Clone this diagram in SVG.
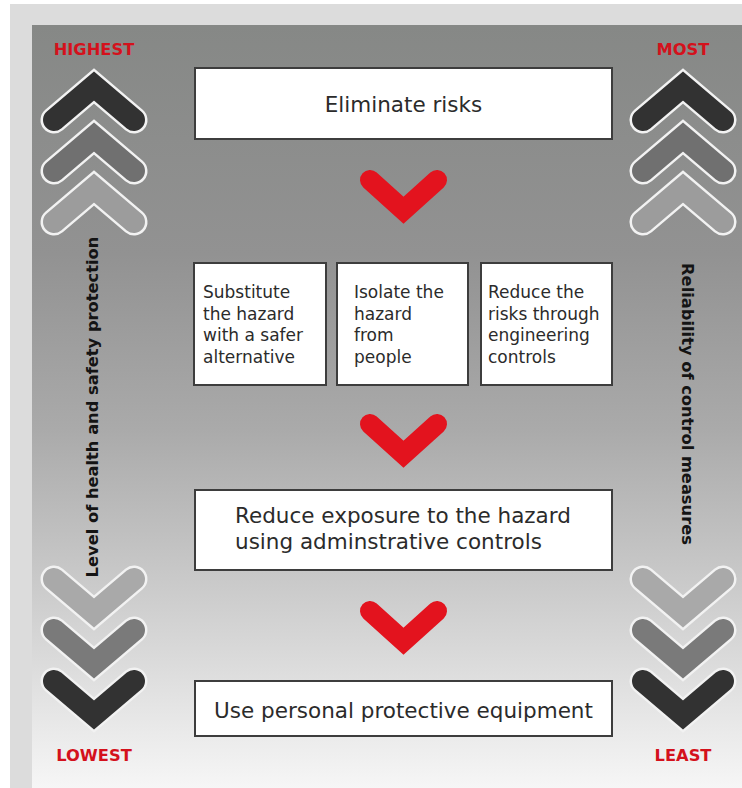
<svg xmlns="http://www.w3.org/2000/svg" width="742" height="788" viewBox="0 0 742 788">
  <defs>
    <linearGradient id="panelShade" x1="0" y1="0" x2="0" y2="1">
      <stop offset="0" stop-color="#868886"/>
      <stop offset="0.3" stop-color="#929292"/>
      <stop offset="0.53" stop-color="#aaaaaa"/>
      <stop offset="0.75" stop-color="#cdcdcd"/>
      <stop offset="1" stop-color="#f6f6f6"/>
    </linearGradient>
    <!-- chevron centrelines, apex at the origin -->
    <path id="chevUp" fill="none" d="M-40,34 L0,0 L40,34"/>
    <path id="chevDown" fill="none" d="M-40,-34 L0,0 L40,-34"/>
    <path id="redV" fill="none" d="M-33.5,-30.2 L0,0 L33.5,-30.2"/>
  </defs>
  <style>
    .halo{stroke:#f2f2f2;stroke-width:27;stroke-linecap:round;stroke-linejoin:miter;stroke-miterlimit:10}
    .tone{stroke-width:22;stroke-linecap:round;stroke-linejoin:miter;stroke-miterlimit:10}
    .dark{stroke:#323232}
    .mid{stroke:#707070}
    .light{stroke:#9c9c9c}
    .mid2{stroke:#7a7a7a}
    .light2{stroke:#a9a9a9}
    .box{fill:#ffffff;stroke:#3d3d3d;stroke-width:2}
    .body{font-family:"DejaVu Sans","Liberation Sans",sans-serif;fill:#2b2b2b}
    .lg{font-size:21.5px}
    .sm{font-size:17px}
    .cap{font-family:"DejaVu Sans","Liberation Sans",sans-serif;font-weight:bold;font-size:16.3px;fill:#d4111c;text-anchor:middle}
    .axis{font-family:"DejaVu Sans","Liberation Sans",sans-serif;font-weight:bold;font-size:16.3px;fill:#141414;text-anchor:middle}
    .arrow{stroke:#e3131e;stroke-width:20;stroke-linecap:round;stroke-linejoin:miter;stroke-miterlimit:10}
  </style>

  <!-- frame and shaded panel -->
  <rect x="0" y="0" width="742" height="788" fill="#ffffff"/>
  <rect x="10" y="4" width="732" height="784" fill="#dcdcdc"/>
  <rect x="32" y="25" width="710" height="763" fill="url(#panelShade)"/>

  <!-- left scale: protection level -->
  <g id="scale-left">
    <text class="cap" x="94" y="55">HIGHEST</text>
    <use href="#chevUp" class="halo" x="94" y="86"/>
    <use href="#chevUp" class="tone dark" x="94" y="86"/>
    <use href="#chevUp" class="halo" x="94" y="137"/>
    <use href="#chevUp" class="tone mid" x="94" y="137"/>
    <use href="#chevUp" class="halo" x="94" y="188"/>
    <use href="#chevUp" class="tone light" x="94" y="188"/>
    <text class="axis" transform="translate(98,407) rotate(-90)">Level of health and safety protection</text>
    <use href="#chevDown" class="halo" x="94" y="613"/>
    <use href="#chevDown" class="tone light2" x="94" y="613"/>
    <use href="#chevDown" class="halo" x="94" y="664"/>
    <use href="#chevDown" class="tone mid2" x="94" y="664"/>
    <use href="#chevDown" class="halo" x="94" y="715"/>
    <use href="#chevDown" class="tone dark" x="94" y="715"/>
    <text class="cap" x="94" y="761">LOWEST</text>
  </g>

  <!-- right scale: reliability -->
  <g id="scale-right">
    <text class="cap" x="683" y="55">MOST</text>
    <use href="#chevUp" class="halo" x="683" y="86"/>
    <use href="#chevUp" class="tone dark" x="683" y="86"/>
    <use href="#chevUp" class="halo" x="683" y="137"/>
    <use href="#chevUp" class="tone mid" x="683" y="137"/>
    <use href="#chevUp" class="halo" x="683" y="188"/>
    <use href="#chevUp" class="tone light" x="683" y="188"/>
    <text class="axis" transform="translate(682,404) rotate(90)">Reliability of control measures</text>
    <use href="#chevDown" class="halo" x="683" y="613"/>
    <use href="#chevDown" class="tone light2" x="683" y="613"/>
    <use href="#chevDown" class="halo" x="683" y="664"/>
    <use href="#chevDown" class="tone mid2" x="683" y="664"/>
    <use href="#chevDown" class="halo" x="683" y="715"/>
    <use href="#chevDown" class="tone dark" x="683" y="715"/>
    <text class="cap" x="683" y="761">LEAST</text>
  </g>

  <!-- control steps -->
  <g id="eliminate">
    <rect class="box" x="195" y="68" width="417" height="71"/>
    <text class="body lg" x="403.5" y="112" text-anchor="middle">Eliminate risks</text>
  </g>

  <g id="substitute">
    <rect class="box" x="194" y="263" width="132" height="122"/>
    <text class="body sm">
      <tspan x="203" y="298">Substitute</tspan>
      <tspan x="203" y="319.5">the hazard</tspan>
      <tspan x="203" y="341">with a safer</tspan>
      <tspan x="203" y="362.5">alternative</tspan>
    </text>
  </g>

  <g id="isolate">
    <rect class="box" x="337" y="263" width="131" height="122"/>
    <text class="body sm">
      <tspan x="354" y="298">Isolate the</tspan>
      <tspan x="354" y="319.5">hazard</tspan>
      <tspan x="354" y="341">from</tspan>
      <tspan x="354" y="362.5">people</tspan>
    </text>
  </g>

  <g id="engineering">
    <rect class="box" x="481" y="263" width="131" height="122"/>
    <text class="body sm">
      <tspan x="488" y="298">Reduce the</tspan>
      <tspan x="488" y="319.5">risks through</tspan>
      <tspan x="488" y="341">engineering</tspan>
      <tspan x="488" y="362.5">controls</tspan>
    </text>
  </g>

  <g id="administrative">
    <rect class="box" x="195" y="490" width="417" height="80"/>
    <text class="body lg">
      <tspan x="235" y="523">Reduce exposure to the hazard</tspan>
      <tspan x="235" y="549">using adminstrative controls</tspan>
    </text>
  </g>

  <g id="ppe">
    <rect class="box" x="195" y="681" width="417" height="55"/>
    <text class="body lg" x="403.5" y="718" text-anchor="middle">Use personal protective equipment</text>
  </g>

  <!-- downward steps between controls -->
  <g id="connectors">
    <use href="#redV" class="arrow" x="403.5" y="210.2"/>
    <use href="#redV" class="arrow" x="403.5" y="454.2"/>
    <use href="#redV" class="arrow" x="403.5" y="641.2"/>
  </g>
</svg>
